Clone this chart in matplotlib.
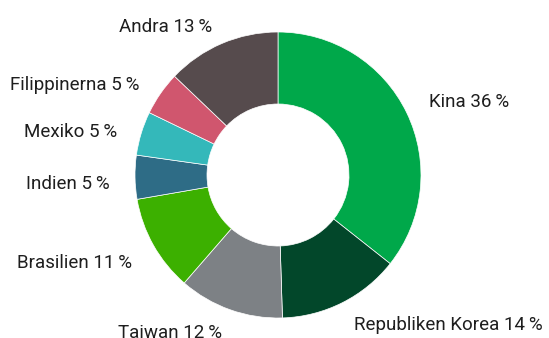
import matplotlib
matplotlib.use("Agg")
import matplotlib.pyplot as plt
import numpy as np

labels = ["Kina", "Republiken Korea", "Taiwan", "Brasilien", "Indien",
          "Mexiko", "Filippinerna", "Andra"]
shares = [36, 14, 12, 11, 5, 5, 5, 13]
colors = ["#00A84A", "#02472A", "#7D8185", "#3CB000", "#2E6C86",
          "#34B8BA", "#D0566E", "#564B4D"]

plt.rcParams["font.family"] = ["Roboto", "DejaVu Sans"]

W, H = 549, 338
fig = plt.figure(figsize=(W / 100, H / 100), dpi=100)
ax = fig.add_axes([0, 0, 1, 1])

cx, cy, r_out = 278, H - 175, 143
texts = [f"{n} {v}\u2009%" for n, v in zip(labels, shares)]

wedges, label_texts = ax.pie(
    shares, colors=colors, labels=texts, startangle=90, counterclock=False,
    center=(cx, cy), radius=r_out, labeldistance=168 / r_out,
    wedgeprops=dict(width=r_out - 71, edgecolor="white", linewidth=0.5),
    textprops=dict(fontsize=13.5, color="#1e1e1e"),
)

# align labels away from the ring; left-hand side labels (not the bottom one)
# sit slightly lower than their slice midpoints
for t in label_texts:
    x, y = t.get_position()
    if x < cx:
        t.set_horizontalalignment("right")
        if y > cy - 0.8 * r_out:
            t.set_position((x, y - 6))
    else:
        t.set_horizontalalignment("left")

ax.set_xlim(0, W)
ax.set_ylim(0, H)
ax.set_aspect("equal")
ax.axis("off")

fig.savefig("out.png", dpi=100)
